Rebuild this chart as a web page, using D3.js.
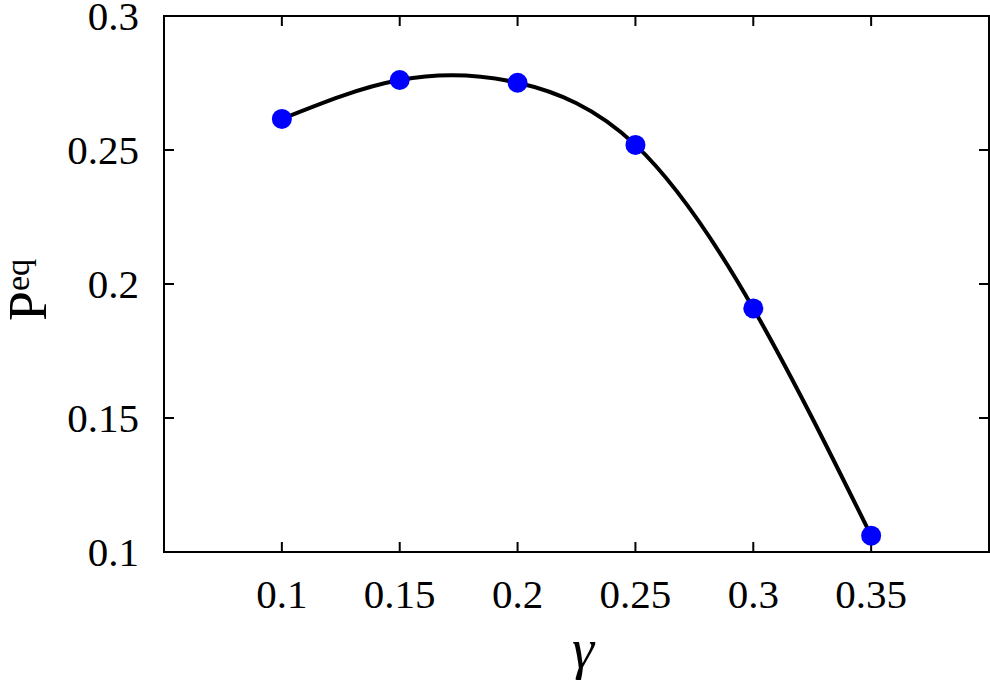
<!DOCTYPE html>
<html><head><meta charset="utf-8">
<script src="https://cdn.jsdelivr.net/npm/d3@7"></script>
<style>html,body{margin:0;padding:0;background:#fff;}svg{display:block;}</style>
</head><body>
<svg id="chart" width="990" height="685"></svg>
<script>
const gammaValues = [0.10, 0.15, 0.20, 0.25, 0.30, 0.35];
const peqValues = [0.2616, 0.2761, 0.2751, 0.2519, 0.1909, 0.1061];
const xTicks = [0.1, 0.15, 0.2, 0.25, 0.3, 0.35];
const yTicks = [0.1, 0.15, 0.2, 0.25, 0.3];
const xDomain = [0.05, 0.40];
const yDomain = [0.1, 0.3];

const svg = d3.select("#chart");
const L = 164, R = 989, T = 16, B = 552;
const font = "'Liberation Serif','Times New Roman',serif";
const x = d3.scaleLinear().domain(xDomain).range([L, R]);
const y = d3.scaleLinear().domain(yDomain).range([B, T]);

// ticks (inside, both sides)
const tl = 10;
const g = svg.append("g").attr("stroke", "#000").attr("stroke-width", 2);
xTicks.forEach(t => {
  g.append("line").attr("x1", x(t)).attr("x2", x(t)).attr("y1", B).attr("y2", B - tl);
  g.append("line").attr("x1", x(t)).attr("x2", x(t)).attr("y1", T).attr("y2", T + tl);
});
yTicks.forEach(t => {
  g.append("line").attr("x1", L).attr("x2", L + tl).attr("y1", y(t)).attr("y2", y(t));
  g.append("line").attr("x1", R).attr("x2", R - tl).attr("y1", y(t)).attr("y2", y(t));
});

// curve
const pts = gammaValues.map((v, i) => [v, peqValues[i]]);
svg.append("path").datum(pts)
  .attr("fill", "none").attr("stroke", "#000").attr("stroke-width", 4)
  .attr("d", d3.line().x(d => x(d[0])).y(d => y(d[1])).curve(d3.curveNatural));

// frame
svg.append("rect").attr("x", L).attr("y", T).attr("width", R - L).attr("height", B - T)
  .attr("fill", "none").attr("stroke", "#000").attr("stroke-width", 2);

// points
svg.selectAll("circle.pt").data(pts).enter().append("circle")
  .attr("cx", d => x(d[0])).attr("cy", d => y(d[1])).attr("r", 10).attr("fill", "#0000ff");

// tick labels
svg.selectAll("text.xt").data(xTicks).enter().append("text")
  .attr("x", d => x(d)).attr("y", 608).attr("text-anchor", "middle")
  .attr("font-family", font).attr("font-size", 41).text(d => d3.format("")(d));
svg.selectAll("text.yt").data(yTicks).enter().append("text")
  .attr("x", 139).attr("y", d => y(d) + 14).attr("text-anchor", "end")
  .attr("font-family", font).attr("font-size", 41).text(d => d3.format("")(d));

// axis labels
svg.append("text").attr("x", 583).attr("y", 668).attr("text-anchor", "middle")
  .attr("font-family", font).attr("font-style", "italic").attr("font-size", 56).text("γ");
const yl = svg.append("text").attr("transform", "translate(46,290) rotate(-90)")
  .attr("text-anchor", "middle").attr("font-family", font);
yl.append("tspan").attr("font-size", 54).text("P");
yl.append("tspan").attr("font-size", 34).attr("dy", -17).text("eq");
</script>
</body></html>
